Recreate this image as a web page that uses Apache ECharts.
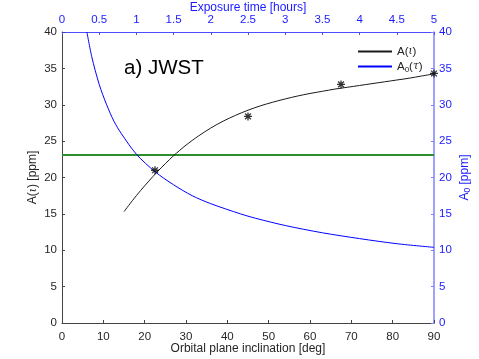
<!DOCTYPE html>
<html>
<head>
<meta charset="UTF-8">
<script src="https://cdn.jsdelivr.net/npm/echarts@6/dist/echarts.min.js"></script>
<style>
html, body { margin: 0; padding: 0; background: #fff; }
#chart { width: 479px; height: 359px; }
</style>
</head>
<body>
<div id="chart"></div>
<script>
// A(iota) vs orbital plane inclination [deg] (bottom / left axes)
var inclCurve = [
    [15, 15.3], [17, 16.8], [19, 18.2], [21, 19.5], [23, 20.75], [25, 21.9],
    [27, 23.0], [30, 24.45], [33, 25.7], [36, 26.8], [39, 27.75], [42, 28.55],
    [45, 29.25], [48, 29.85], [51, 30.35], [54, 30.8], [57, 31.2], [60, 31.55],
    [63, 31.85], [66, 32.15], [69, 32.4], [72, 32.65], [75, 32.9], [78, 33.15],
    [81, 33.4], [84, 33.65], [87, 33.95], [90, 34.25]
];
// star markers
var inclPoints = [[22.5, 21.0], [45, 28.4], [67.5, 32.8], [90, 34.3]];
// A0(tau) vs exposure time [hours] (top / right axes)
var expCurve = [
    [0.335, 40], [0.4, 36.6], [0.5, 32.8], [0.6, 30.0], [0.7, 27.7], [0.8, 26.0],
    [1.0, 23.2], [1.25, 20.8], [1.5, 19.0], [1.75, 17.5], [2.0, 16.4], [2.4, 15.0],
    [2.6, 14.4], [3.0, 13.4], [3.5, 12.4], [4.0, 11.6], [4.5, 10.9], [5.0, 10.4]
];
// green horizontal level
var levelValue = 23.1;
var levelX = [0, 90];

var FONT = 'Liberation Sans';
var BLUE = '#1a1aff';
var TICK_FS = 11.5;
var NAME_FS = 12;

var chart = echarts.init(document.getElementById('chart'), null, { renderer: 'canvas' });

var option = {
    animation: false,
    textStyle: { fontFamily: FONT },
    grid: { left: 62, right: 45, top: 32, bottom: 36, containLabel: false, outerBoundsMode: 'none' },
    title: {
        text: 'a) JWST',
        left: 124, top: 58, padding: 0,
        textStyle: { fontFamily: FONT, fontSize: 20.5, fontWeight: 'normal', color: '#000' }
    },
    legend: {
        orient: 'vertical',
        left: 357, top: 45.5, padding: 0,
        itemWidth: 34, itemHeight: 14, itemGap: 3,
        itemStyle: { opacity: 0 },
        data: ['A(ι)', 'A0(τ)'],
        formatter: function (name) {
            if (name === 'A(ι)') return '{t|A(}{g|ι}{t|)}';
            return '{t|A}{s|0}{t|(}{g|τ}{t|)}';
        },
        textStyle: {
            fontFamily: FONT, fontSize: 11.5, color: '#222',
            rich: {
                t: { fontFamily: FONT, fontSize: 11.5, color: '#222' },
                g: { fontFamily: 'DejaVu Serif', fontStyle: 'italic', fontSize: 10.5, color: '#222' },
                s: { fontFamily: FONT, fontSize: 8, color: '#222', padding: [6, 0, 0, 0] }
            }
        }
    },
    xAxis: [{
        type: 'value', position: 'bottom',
        min: 0, max: 90, interval: 10,
        name: 'Orbital plane inclination [deg]',
        nameLocation: 'middle', nameGap: 20, nameMoveOverlap: false,
        nameTextStyle: { fontFamily: FONT, fontSize: NAME_FS, color: '#262626' },
        axisLine: { onZero: false, lineStyle: { color: '#444', width: 1 } },
        axisTick: { inside: true, length: 3, lineStyle: { color: '#444' } },
        axisLabel: { fontFamily: FONT, fontSize: TICK_FS, color: '#262626', margin: 8 },
        splitLine: { show: false }
    }, {
        type: 'value', position: 'top',
        min: 0, max: 5, interval: 0.5,
        name: 'Exposure time [hours]',
        nameLocation: 'middle', nameGap: 18, nameMoveOverlap: false,
        nameTextStyle: { fontFamily: FONT, fontSize: NAME_FS, color: BLUE },
        axisLine: { onZero: false, lineStyle: { color: '#4d4dff', width: 1 } },
        axisTick: { inside: true, length: 3, lineStyle: { color: '#4d4dff' } },
        axisLabel: { fontFamily: FONT, fontSize: TICK_FS, color: BLUE, margin: 6 },
        splitLine: { show: false }
    }],
    yAxis: [{
        type: 'value', position: 'left',
        min: 0, max: 40, interval: 5,
        name: '{t|A(}{g|ι}{t|) [ppm]}',
        nameLocation: 'middle', nameGap: 23, nameMoveOverlap: false,
        nameTextStyle: {
            fontFamily: FONT, fontSize: NAME_FS, color: '#262626',
            rich: {
                t: { fontFamily: FONT, fontSize: NAME_FS, color: '#262626' },
                g: { fontFamily: 'DejaVu Serif', fontStyle: 'italic', fontSize: 11, color: '#262626' }
            }
        },
        axisLine: { show: true, onZero: false, lineStyle: { color: '#444', width: 1 } },
        axisTick: { show: true, inside: true, length: 3, lineStyle: { color: '#444' } },
        axisLabel: { fontFamily: FONT, fontSize: TICK_FS, color: '#262626', margin: 5 },
        splitLine: { show: false }
    }, {
        type: 'value', position: 'right',
        min: 0, max: 40, interval: 5,
        name: '{t|A}{s|0}{t| [ppm]}',
        nameLocation: 'middle', nameGap: 23, nameMoveOverlap: false,
        nameTextStyle: {
            fontFamily: FONT, fontSize: NAME_FS, color: BLUE,
            rich: {
                t: { fontFamily: FONT, fontSize: NAME_FS, color: BLUE },
                s: { fontFamily: FONT, fontSize: 8.5, color: BLUE, padding: [6, 0, 0, 0] }
            }
        },
        axisLine: { show: true, onZero: false, lineStyle: { color: '#8080ff', width: 1.5 } },
        axisTick: { show: true, inside: true, length: 3, lineStyle: { color: '#8080ff' } },
        axisLabel: { fontFamily: FONT, fontSize: TICK_FS, color: BLUE, margin: 5 },
        splitLine: { show: false }
    }],
    series: [{
        name: 'A(ι)',
        type: 'line',
        xAxisIndex: 0, yAxisIndex: 0,
        data: inclCurve,
        smooth: 0.3,
        symbol: 'none',
        lineStyle: { color: '#1a1a1a', width: 1 },
        itemStyle: { color: '#1a1a1a' },
        z: 3
    }, {
        name: 'A0(τ)',
        type: 'line',
        xAxisIndex: 1, yAxisIndex: 1,
        data: expCurve,
        smooth: 0.3,
        symbol: 'none',
        lineStyle: { color: '#0000ff', width: 1 },
        itemStyle: { color: '#0000ff' },
        z: 3
    }, {
        name: 'level',
        type: 'line',
        xAxisIndex: 0, yAxisIndex: 0,
        data: levelX.map(function (x) { return [x, levelValue]; }),
        symbol: 'none',
        lineStyle: { color: '#2a8f2a', width: 2 },
        z: 2
    }, {
        name: 'points',
        type: 'scatter',
        xAxisIndex: 0, yAxisIndex: 0,
        data: inclPoints,
        symbol: 'path://M0,-5L0,5M-5,0L5,0M-3.6,-3.6L3.6,3.6M-3.6,3.6L3.6,-3.6',
        symbolSize: 8,
        itemStyle: { color: 'transparent', borderColor: '#000', borderWidth: 1.3 },
        z: 4
    }]
};

chart.setOption(option);
</script>
</body>
</html>
